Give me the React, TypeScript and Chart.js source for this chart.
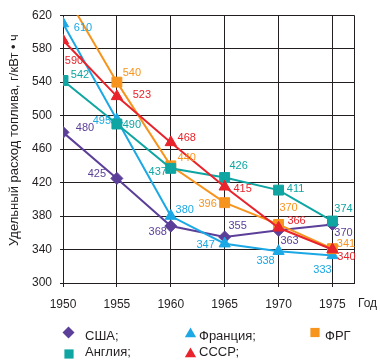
import React, { useEffect, useRef } from 'react';
import { Chart, registerables } from 'chart.js';

Chart.register(...registerables);

// ---- data ----
const years = [1950, 1955, 1960, 1965, 1970, 1975];
const usa = [480, 425, 368, 355, 363, 370];
const france = [610, 495, 380, 347, 338, 333];
const frg = [650, 540, 440, 396, 370, 341];
const england = [542, 490, 437, 426, 411, 374];
const ussr = [590, 523, 468, 415, 366, 340];
const yTicks = [300, 340, 380, 420, 460, 500, 540, 580, 620];
const xTicks = [1950, 1955, 1960, 1965, 1970, 1975];
const yTitle = 'Удельный расход топлива, г/кВт • ч';
const xTitle = 'Год';
const names = { usa: 'США;', france: 'Франция;', frg: 'ФРГ', england: 'Англия;', ussr: 'СССР;' };

// ---- styling ----
const C = {
  usa: '#5b3f98',
  france: '#1ba8e4',
  frg: '#f7941d',
  england: '#0fa5a2',
  ussr: '#e8232b',
  ink: '#231f20',
};
const FONT = "'Liberation Sans', Arial, sans-serif";
const NARROW = "'Liberation Sans Narrow', 'Arial Narrow', 'Liberation Sans', Arial, sans-serif";

// label offsets (px) from each point, null = no label
const labelOffsets: Record<string, (number[] | null)[]> = {
  usa: [[22, -4], [-20, -4], [-13, 6], [13, -11], [11, 11], [11, 9]],
  france: [[20, 4], [-15, 1.5], [14, -6], [-19, 1], [-13, 10], [-10, 15]],
  frg: [null, [15, -9.5], [16, -8], [-17, 1], [10, -16], [13.5, -5]],
  england: [[17, -6], [15, 1], [-13, 4], [14, -12], [17, -1], [11, -12]],
  ussr: [[11, 21], [25, -1.5], [16, -4.5], [18, 2], [18, -6.6], [14, 7]],
};

function shape(ctx: CanvasRenderingContext2D, kind: string, x: number, y: number, r: number, color: string) {
  ctx.save();
  ctx.fillStyle = color;
  ctx.beginPath();
  if (kind === 'rectRot') {
    ctx.moveTo(x, y - r);
    ctx.lineTo(x + r, y);
    ctx.lineTo(x, y + r);
    ctx.lineTo(x - r, y);
  } else if (kind === 'rect') {
    const s = r * Math.SQRT1_2;
    ctx.rect(x - s, y - s, 2 * s, 2 * s);
  } else {
    ctx.moveTo(x, y - r);
    ctx.lineTo(x + r * 0.866, y + r * 0.5);
    ctx.lineTo(x - r * 0.866, y + r * 0.5);
  }
  ctx.closePath();
  ctx.fill();
  ctx.restore();
}

const extras = {
  id: 'extras',
  beforeDatasetsDraw(chart: any) {
    const { ctx, chartArea: a } = chart;
    ctx.save();
    ctx.strokeStyle = C.ink;
    ctx.lineWidth = 1;
    const r = Math.round(a.right) + 0.5;
    const t = Math.round(a.top) + 0.5;
    ctx.beginPath();
    ctx.moveTo(r, Math.round(a.bottom) + 0.5);
    ctx.lineTo(r, t);
    ctx.lineTo(Math.round(a.left) + 0.5, t);
    ctx.stroke();
    ctx.restore();
  },
  afterDatasetsDraw(chart: any) {
    const { ctx } = chart;
    ctx.save();
    ctx.font = `11px ${NARROW}`;
    ctx.textAlign = 'center';
    ctx.textBaseline = 'middle';
    chart.data.datasets.forEach((ds: any, i: number) => {
      const meta = chart.getDatasetMeta(i);
      const offs = labelOffsets[ds.key];
      meta.data.forEach((pt: any, j: number) => {
        const o = offs[j];
        if (!o) return;
        ctx.fillStyle = ds.borderColor;
        ctx.fillText(String(ds.data[j].y), pt.x + o[0], pt.y + o[1]);
      });
    });
    ctx.restore();
  },
  afterDraw(chart: any) {
    const { ctx } = chart;
    ctx.save();
    // y title
    ctx.fillStyle = C.ink;
    ctx.font = `13px ${FONT}`;
    ctx.textAlign = 'center';
    ctx.textBaseline = 'middle';
    ctx.translate(14, 140);
    ctx.rotate(-Math.PI / 2);
    ctx.fillText(yTitle, 0, 0);
    ctx.restore();

    ctx.save();
    ctx.fillStyle = C.ink;
    ctx.font = `12px ${FONT}`;
    ctx.textAlign = 'left';
    ctx.textBaseline = 'middle';
    ctx.fillText(xTitle, 358, 304);

    // legend
    ctx.font = `13px ${FONT}`;
    const items = [
      { kind: 'rectRot', mx: 68.5, my: 332.5, r: 6, tx: 85, ty: 336.5, color: C.usa, text: names.usa },
      { kind: 'triangle', mx: 190.5, my: 334, r: 6.5, tx: 199, ty: 336.5, color: C.france, text: names.france },
      { kind: 'rect', mx: 315, my: 332.5, r: 6.5, tx: 325, ty: 336, color: C.frg, text: names.frg },
      { kind: 'rect', mx: 69, my: 354, r: 6.5, tx: 85, ty: 352, color: C.england, text: names.england },
      { kind: 'triangle', mx: 190.5, my: 354, r: 6.5, tx: 199, ty: 352, color: C.ussr, text: names.ussr },
    ];
    items.forEach((it) => {
      shape(ctx, it.kind, it.mx, it.my, it.r, it.color);
      ctx.fillStyle = C.ink;
      ctx.fillText(it.text, it.tx, it.ty);
    });
    ctx.restore();
  },
};

function mk(key: string, values: number[], color: string, pointStyle: string, radius: number, order: number, clip?: any) {
  const ds: any = {
    key,
    label: (names as any)[key],
    data: years.map((x, i) => ({ x, y: values[i] })),
    borderColor: color,
    backgroundColor: color,
    pointBackgroundColor: color,
    pointBorderColor: color,
    pointBorderWidth: 1,
    borderWidth: 2,
    pointStyle,
    pointRadius: radius,
    pointHoverRadius: radius,
    tension: 0,
    order,
  };
  if (clip) ds.clip = clip;
  return ds;
}

export default function App() {
  const ref = useRef<HTMLCanvasElement>(null);
  useEffect(() => {
    document.body.style.margin = '0';
    const chart = new Chart(ref.current!, {
      type: 'line',
      data: {
        datasets: [
          mk('ussr', ussr, C.ussr, 'triangle', 6.5, 0),
          mk('england', england, C.england, 'rect', 7, 1),
          mk('frg', frg, C.frg, 'rect', 7, 2, { left: 10, top: 0, right: 10, bottom: 10 }),
          mk('france', france, C.france, 'triangle', 6.5, 3),
          mk('usa', usa, C.usa, 'rectRot', 6, 4),
        ],
      },
      options: {
        animation: false,
        responsive: false,
        maintainAspectRatio: false,
        layout: { padding: { top: 13, right: 26, bottom: 49, left: 0 } },
        plugins: { legend: { display: false }, tooltip: { enabled: false } },
        scales: {
          x: {
            type: 'linear',
            min: 1950,
            max: 1977,
            afterBuildTicks: (s: any) => {
              s.ticks = xTicks.map((v) => ({ value: v }));
            },
            afterFit: (s: any) => {
              s.height = 30;
            },
            grid: { color: C.ink, lineWidth: 1, tickLength: 4 },
            border: { color: C.ink, width: 1 },
            ticks: {
              color: C.ink,
              font: { family: FONT, size: 12 },
              padding: 10,
              maxRotation: 0,
              autoSkip: false,
              callback: (v: any) => String(v),
            },
          },
          y: {
            min: 300,
            max: 620,
            afterBuildTicks: (s: any) => {
              s.ticks = yTicks.map((v) => ({ value: v }));
            },
            afterFit: (s: any) => {
              s.width = 63;
            },
            grid: { color: C.ink, lineWidth: 1, tickLength: 3 },
            border: { color: C.ink, width: 1 },
            ticks: {
              color: C.ink,
              font: { family: FONT, size: 12 },
              padding: 8,
              callback: (v: any) => String(v),
            },
          },
        },
      } as any,
      plugins: [extras],
    });
    return () => chart.destroy();
  }, []);
  return (
    <div style={{ position: 'absolute', left: 0, top: 0, width: 380, height: 362, background: '#fff' }}>
      <canvas ref={ref} width={380} height={362} style={{ display: 'block' }} />
    </div>
  );
}
